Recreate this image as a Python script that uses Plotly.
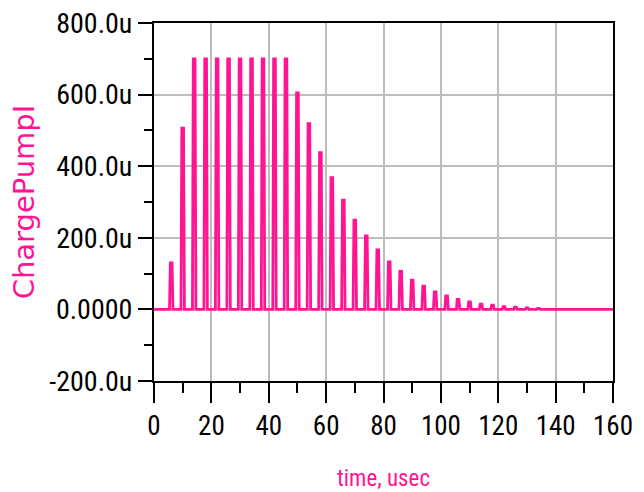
import plotly.graph_objects as go

# Charge-pump output current: one pulse every 4 usec, peak values in uA
pulse_times = [6, 10, 14, 18, 22, 26, 30, 34, 38, 42, 46, 50, 54, 58, 62, 66,
               70, 74, 78, 82, 86, 90, 94, 98, 102, 106, 110, 114, 118, 122,
               126, 130, 134]
pulse_peaks_u = [130, 506, 700, 700, 700, 700, 700, 700, 700, 700, 700, 605,
                 519, 438, 368, 305, 249, 205, 166, 133, 106, 82, 65, 49, 38,
                 28, 21, 15, 12, 8, 6, 4, 3]

t_start, t_stop = 0, 160
x_tick_vals = [0, 20, 40, 60, 80, 100, 120, 140, 160]
y_tick_vals = [-200, 0, 200, 400, 600, 800]
y_tick_text = ["-200.0u", "0.0000", "200.0u", "400.0u", "600.0u", "800.0u"]

PINK = "#ff1493"
TICK_FONT = "Roboto Condensed, Liberation Sans Narrow, Liberation Sans, Arial, sans-serif"

# Build the piecewise-linear waveform: short flat-topped pulses on a zero baseline
RISE = 0.3
HALF_TOP = 0.3
t = [t_start]
i_u = [0]
for tp, pk in zip(pulse_times, pulse_peaks_u):
    t += [tp - HALF_TOP - RISE, tp - HALF_TOP, tp + HALF_TOP, tp + HALF_TOP + RISE]
    i_u += [0, pk, pk, 0]
t.append(t_stop)
i_u.append(0)

fig = go.Figure()
fig.add_trace(go.Scatter(x=t, y=i_u, mode="lines",
                         line=dict(color=PINK, width=2.8),
                         name="ChargePumpI", showlegend=False))

fig.update_layout(
    width=644, height=492,
    margin=dict(l=154, r=31, t=23, b=111),
    paper_bgcolor="white", plot_bgcolor="white",
    font=dict(family=TICK_FONT, size=28, color="black"),
)

fig.update_xaxes(
    range=[t_start, t_stop], automargin=False,
    tickvals=x_tick_vals,
    ticks="outside", ticklen=20, tickwidth=2, tickcolor="black",
    minor=dict(ticks="outside", ticklen=10, tickwidth=2, tickcolor="black",
               dtick=10, showgrid=False),
    showline=True, linecolor="black", linewidth=2, mirror=True,
    showgrid=True, gridcolor="#bdbdbd", gridwidth=2, zeroline=False,
    tickfont=dict(family=TICK_FONT, size=27, color="black"),
    title=dict(text="time, usec", standoff=28,
               font=dict(family=TICK_FONT, size=23, color=PINK)),
)

fig.update_yaxes(
    range=[-200, 800], automargin=False,
    tickvals=y_tick_vals, ticktext=y_tick_text,
    ticks="outside", ticklen=14, tickwidth=2, tickcolor="black",
    minor=dict(ticks="outside", ticklen=8, tickwidth=2, tickcolor="black",
               dtick=100, showgrid=False),
    showline=True, linecolor="black", linewidth=2, mirror=True,
    showgrid=True, gridcolor="#bdbdbd", gridwidth=2, zeroline=False,
    tickfont=dict(family=TICK_FONT, size=28, color="black"),
    title=dict(text="ChargePumpI", standoff=6,
               font=dict(family="DejaVu Sans, sans-serif", size=29, color=PINK)),
)

fig.write_html("out.html")
